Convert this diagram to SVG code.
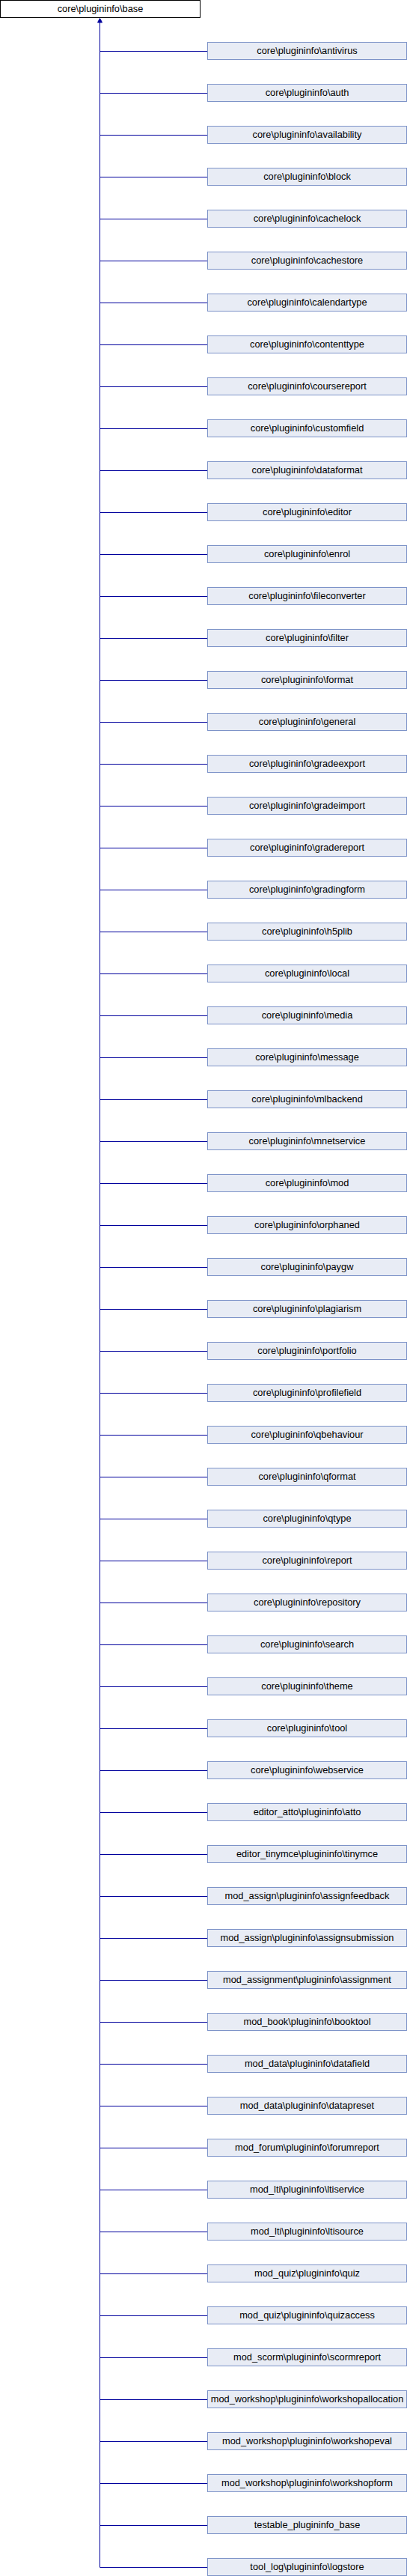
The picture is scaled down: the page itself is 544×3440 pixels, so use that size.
<svg xmlns="http://www.w3.org/2000/svg" width="544" height="3440" viewBox="0 0 544 3440">
<style>
.root rect{fill:#ffffff;stroke:#000000;stroke-width:1}
.node rect{fill:#e8ecf5;stroke:#7d93c8;stroke-width:1}
text{font-family:"Liberation Sans",Arial,sans-serif;font-size:12.8px;fill:#000000;text-anchor:middle}
.edges line,.edges path{stroke:#00009c;stroke-width:1;fill:none}
.edges polygon{fill:#00009c;stroke:#00009c;stroke-width:1}
</style>
<rect width="544" height="3440" fill="#ffffff"/>
<g id="connectors" class="edges">
<polygon points="133.5,24.5 130.5,30 136.5,30"/>
<line x1="133.5" y1="30" x2="133.5" y2="3428.5"/>
<path d="M133.5 68.5H277.5M133.5 124.5H277.5M133.5 180.5H277.5M133.5 236.5H277.5M133.5 292.5H277.5M133.5 348.5H277.5M133.5 404.5H277.5M133.5 460.5H277.5M133.5 516.5H277.5M133.5 572.5H277.5M133.5 628.5H277.5M133.5 684.5H277.5M133.5 740.5H277.5M133.5 796.5H277.5M133.5 852.5H277.5M133.5 908.5H277.5M133.5 964.5H277.5M133.5 1020.5H277.5M133.5 1076.5H277.5M133.5 1132.5H277.5M133.5 1188.5H277.5M133.5 1244.5H277.5M133.5 1300.5H277.5M133.5 1356.5H277.5M133.5 1412.5H277.5M133.5 1468.5H277.5M133.5 1524.5H277.5M133.5 1580.5H277.5M133.5 1636.5H277.5M133.5 1692.5H277.5M133.5 1748.5H277.5M133.5 1804.5H277.5M133.5 1860.5H277.5M133.5 1916.5H277.5M133.5 1972.5H277.5M133.5 2028.5H277.5M133.5 2084.5H277.5M133.5 2140.5H277.5M133.5 2196.5H277.5M133.5 2252.5H277.5M133.5 2308.5H277.5M133.5 2364.5H277.5M133.5 2420.5H277.5M133.5 2476.5H277.5M133.5 2532.5H277.5M133.5 2588.5H277.5M133.5 2644.5H277.5M133.5 2700.5H277.5M133.5 2756.5H277.5M133.5 2812.5H277.5M133.5 2868.5H277.5M133.5 2924.5H277.5M133.5 2980.5H277.5M133.5 3036.5H277.5M133.5 3092.5H277.5M133.5 3148.5H277.5M133.5 3204.5H277.5M133.5 3260.5H277.5M133.5 3316.5H277.5M133.5 3372.5H277.5M133.5 3428.5H277.5"/>
</g>
<g id="node-base" class="root"><rect x="0.5" y="0.5" width="267" height="23"/><text x="134" y="16">core\plugininfo\base</text></g>
<g id="n1" class="node"><rect x="277.5" y="56.5" width="266" height="23"/><text x="410.5" y="72">core\plugininfo\antivirus</text></g>
<g id="n2" class="node"><rect x="277.5" y="112.5" width="266" height="23"/><text x="410.5" y="128">core\plugininfo\auth</text></g>
<g id="n3" class="node"><rect x="277.5" y="168.5" width="266" height="23"/><text x="410.5" y="184">core\plugininfo\availability</text></g>
<g id="n4" class="node"><rect x="277.5" y="224.5" width="266" height="23"/><text x="410.5" y="240">core\plugininfo\block</text></g>
<g id="n5" class="node"><rect x="277.5" y="280.5" width="266" height="23"/><text x="410.5" y="296">core\plugininfo\cachelock</text></g>
<g id="n6" class="node"><rect x="277.5" y="336.5" width="266" height="23"/><text x="410.5" y="352">core\plugininfo\cachestore</text></g>
<g id="n7" class="node"><rect x="277.5" y="392.5" width="266" height="23"/><text x="410.5" y="408">core\plugininfo\calendartype</text></g>
<g id="n8" class="node"><rect x="277.5" y="448.5" width="266" height="23"/><text x="410.5" y="464">core\plugininfo\contenttype</text></g>
<g id="n9" class="node"><rect x="277.5" y="504.5" width="266" height="23"/><text x="410.5" y="520">core\plugininfo\coursereport</text></g>
<g id="n10" class="node"><rect x="277.5" y="560.5" width="266" height="23"/><text x="410.5" y="576">core\plugininfo\customfield</text></g>
<g id="n11" class="node"><rect x="277.5" y="616.5" width="266" height="23"/><text x="410.5" y="632">core\plugininfo\dataformat</text></g>
<g id="n12" class="node"><rect x="277.5" y="672.5" width="266" height="23"/><text x="410.5" y="688">core\plugininfo\editor</text></g>
<g id="n13" class="node"><rect x="277.5" y="728.5" width="266" height="23"/><text x="410.5" y="744">core\plugininfo\enrol</text></g>
<g id="n14" class="node"><rect x="277.5" y="784.5" width="266" height="23"/><text x="410.5" y="800">core\plugininfo\fileconverter</text></g>
<g id="n15" class="node"><rect x="277.5" y="840.5" width="266" height="23"/><text x="410.5" y="856">core\plugininfo\filter</text></g>
<g id="n16" class="node"><rect x="277.5" y="896.5" width="266" height="23"/><text x="410.5" y="912">core\plugininfo\format</text></g>
<g id="n17" class="node"><rect x="277.5" y="952.5" width="266" height="23"/><text x="410.5" y="968">core\plugininfo\general</text></g>
<g id="n18" class="node"><rect x="277.5" y="1008.5" width="266" height="23"/><text x="410.5" y="1024">core\plugininfo\gradeexport</text></g>
<g id="n19" class="node"><rect x="277.5" y="1064.5" width="266" height="23"/><text x="410.5" y="1080">core\plugininfo\gradeimport</text></g>
<g id="n20" class="node"><rect x="277.5" y="1120.5" width="266" height="23"/><text x="410.5" y="1136">core\plugininfo\gradereport</text></g>
<g id="n21" class="node"><rect x="277.5" y="1176.5" width="266" height="23"/><text x="410.5" y="1192">core\plugininfo\gradingform</text></g>
<g id="n22" class="node"><rect x="277.5" y="1232.5" width="266" height="23"/><text x="410.5" y="1248">core\plugininfo\h5plib</text></g>
<g id="n23" class="node"><rect x="277.5" y="1288.5" width="266" height="23"/><text x="410.5" y="1304">core\plugininfo\local</text></g>
<g id="n24" class="node"><rect x="277.5" y="1344.5" width="266" height="23"/><text x="410.5" y="1360">core\plugininfo\media</text></g>
<g id="n25" class="node"><rect x="277.5" y="1400.5" width="266" height="23"/><text x="410.5" y="1416">core\plugininfo\message</text></g>
<g id="n26" class="node"><rect x="277.5" y="1456.5" width="266" height="23"/><text x="410.5" y="1472">core\plugininfo\mlbackend</text></g>
<g id="n27" class="node"><rect x="277.5" y="1512.5" width="266" height="23"/><text x="410.5" y="1528">core\plugininfo\mnetservice</text></g>
<g id="n28" class="node"><rect x="277.5" y="1568.5" width="266" height="23"/><text x="410.5" y="1584">core\plugininfo\mod</text></g>
<g id="n29" class="node"><rect x="277.5" y="1624.5" width="266" height="23"/><text x="410.5" y="1640">core\plugininfo\orphaned</text></g>
<g id="n30" class="node"><rect x="277.5" y="1680.5" width="266" height="23"/><text x="410.5" y="1696">core\plugininfo\paygw</text></g>
<g id="n31" class="node"><rect x="277.5" y="1736.5" width="266" height="23"/><text x="410.5" y="1752">core\plugininfo\plagiarism</text></g>
<g id="n32" class="node"><rect x="277.5" y="1792.5" width="266" height="23"/><text x="410.5" y="1808">core\plugininfo\portfolio</text></g>
<g id="n33" class="node"><rect x="277.5" y="1848.5" width="266" height="23"/><text x="410.5" y="1864">core\plugininfo\profilefield</text></g>
<g id="n34" class="node"><rect x="277.5" y="1904.5" width="266" height="23"/><text x="410.5" y="1920">core\plugininfo\qbehaviour</text></g>
<g id="n35" class="node"><rect x="277.5" y="1960.5" width="266" height="23"/><text x="410.5" y="1976">core\plugininfo\qformat</text></g>
<g id="n36" class="node"><rect x="277.5" y="2016.5" width="266" height="23"/><text x="410.5" y="2032">core\plugininfo\qtype</text></g>
<g id="n37" class="node"><rect x="277.5" y="2072.5" width="266" height="23"/><text x="410.5" y="2088">core\plugininfo\report</text></g>
<g id="n38" class="node"><rect x="277.5" y="2128.5" width="266" height="23"/><text x="410.5" y="2144">core\plugininfo\repository</text></g>
<g id="n39" class="node"><rect x="277.5" y="2184.5" width="266" height="23"/><text x="410.5" y="2200">core\plugininfo\search</text></g>
<g id="n40" class="node"><rect x="277.5" y="2240.5" width="266" height="23"/><text x="410.5" y="2256">core\plugininfo\theme</text></g>
<g id="n41" class="node"><rect x="277.5" y="2296.5" width="266" height="23"/><text x="410.5" y="2312">core\plugininfo\tool</text></g>
<g id="n42" class="node"><rect x="277.5" y="2352.5" width="266" height="23"/><text x="410.5" y="2368">core\plugininfo\webservice</text></g>
<g id="n43" class="node"><rect x="277.5" y="2408.5" width="266" height="23"/><text x="410.5" y="2424">editor_atto\plugininfo\atto</text></g>
<g id="n44" class="node"><rect x="277.5" y="2464.5" width="266" height="23"/><text x="410.5" y="2480">editor_tinymce\plugininfo\tinymce</text></g>
<g id="n45" class="node"><rect x="277.5" y="2520.5" width="266" height="23"/><text x="410.5" y="2536">mod_assign\plugininfo\assignfeedback</text></g>
<g id="n46" class="node"><rect x="277.5" y="2576.5" width="266" height="23"/><text x="410.5" y="2592">mod_assign\plugininfo\assignsubmission</text></g>
<g id="n47" class="node"><rect x="277.5" y="2632.5" width="266" height="23"/><text x="410.5" y="2648">mod_assignment\plugininfo\assignment</text></g>
<g id="n48" class="node"><rect x="277.5" y="2688.5" width="266" height="23"/><text x="410.5" y="2704">mod_book\plugininfo\booktool</text></g>
<g id="n49" class="node"><rect x="277.5" y="2744.5" width="266" height="23"/><text x="410.5" y="2760">mod_data\plugininfo\datafield</text></g>
<g id="n50" class="node"><rect x="277.5" y="2800.5" width="266" height="23"/><text x="410.5" y="2816">mod_data\plugininfo\datapreset</text></g>
<g id="n51" class="node"><rect x="277.5" y="2856.5" width="266" height="23"/><text x="410.5" y="2872">mod_forum\plugininfo\forumreport</text></g>
<g id="n52" class="node"><rect x="277.5" y="2912.5" width="266" height="23"/><text x="410.5" y="2928">mod_lti\plugininfo\ltiservice</text></g>
<g id="n53" class="node"><rect x="277.5" y="2968.5" width="266" height="23"/><text x="410.5" y="2984">mod_lti\plugininfo\ltisource</text></g>
<g id="n54" class="node"><rect x="277.5" y="3024.5" width="266" height="23"/><text x="410.5" y="3040">mod_quiz\plugininfo\quiz</text></g>
<g id="n55" class="node"><rect x="277.5" y="3080.5" width="266" height="23"/><text x="410.5" y="3096">mod_quiz\plugininfo\quizaccess</text></g>
<g id="n56" class="node"><rect x="277.5" y="3136.5" width="266" height="23"/><text x="410.5" y="3152">mod_scorm\plugininfo\scormreport</text></g>
<g id="n57" class="node"><rect x="277.5" y="3192.5" width="266" height="23"/><text x="410.5" y="3208">mod_workshop\plugininfo\workshopallocation</text></g>
<g id="n58" class="node"><rect x="277.5" y="3248.5" width="266" height="23"/><text x="410.5" y="3264">mod_workshop\plugininfo\workshopeval</text></g>
<g id="n59" class="node"><rect x="277.5" y="3304.5" width="266" height="23"/><text x="410.5" y="3320">mod_workshop\plugininfo\workshopform</text></g>
<g id="n60" class="node"><rect x="277.5" y="3360.5" width="266" height="23"/><text x="410.5" y="3376">testable_plugininfo_base</text></g>
<g id="n61" class="node"><rect x="277.5" y="3416.5" width="266" height="23"/><text x="410.5" y="3432">tool_log\plugininfo\logstore</text></g>
</svg>
